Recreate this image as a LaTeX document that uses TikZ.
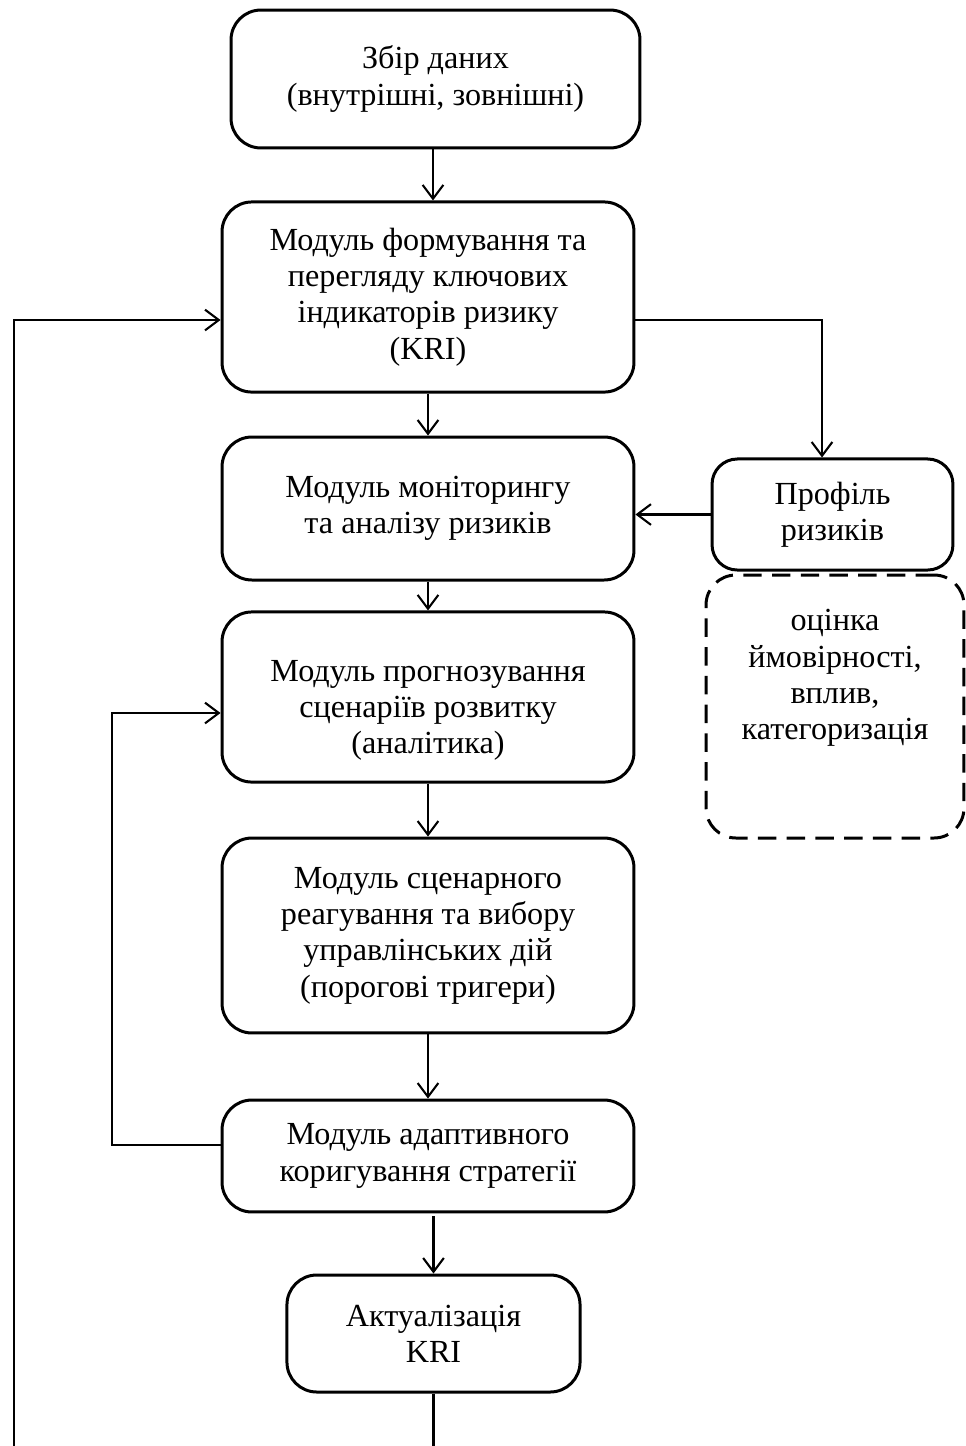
\documentclass[tikz,border=0pt]{standalone}
\usepackage{fontspec}
\setmainfont{Liberation Serif}
\usetikzlibrary{arrows.meta}

\tikzset{
  block/.style={draw, line width=1.3pt, rounded corners=13pt, align=center,
    inner sep=0pt, font=\fontsize{14}{15.8}\selectfont},
  note/.style={block, dash pattern=on 8pt off 4.5pt},
  link/.style={line width=0.9pt, -{Straight Barb[length=6pt,width=9pt]}}
}

\begin{document}
\begin{tikzpicture}[x=0.435pt, y=-0.435pt]
\useasboundingbox (0,0) rectangle (966,1446);
\node[name=zbir, block, minimum width=177.9pt, minimum height=60pt] at (435.5,79) {Збір даних\\(внутрішні, зовнішні)};
\node[name=kri, block, minimum width=179.2pt, minimum height=82.7pt] at (428,297) {Модуль формування та\\перегляду ключових\\індикаторів ризику\\(KRI)};
\node[name=monit, block, minimum width=179.2pt, minimum height=62.2pt] at (428,508.5) {Модуль моніторингу\\та аналізу ризиків};
\node[name=profil, block, rounded corners=11pt, minimum width=104.8pt, minimum height=48.3pt] at (832.5,514.5) {Профіль\\ризиків};
\node[name=otsinka, note, minimum width=112.2pt, minimum height=114.4pt] at (835,706.5) {оцінка\\ймовірності,\\вплив,\\категоризація\\[12pt]{}};
\node[name=prohnoz, block, minimum width=179.2pt, minimum height=74pt] at (428,697) {\mbox{}\\[5pt]Модуль прогнозування\\сценаріїв розвитку\\(аналітика)};
\node[name=reag, block, minimum width=179.2pt, minimum height=84.8pt] at (428,935.5) {Модуль сценарного\\реагування та вибору\\управлінських дій\\(порогові тригери)};
\node[name=adapt, block, minimum width=179.2pt, minimum height=48.7pt] at (428,1156) {Модуль адаптивного\\коригування стратегії};
\node[name=aktual, block, minimum width=127.5pt, minimum height=50.9pt] at (433.5,1333.5) {Актуалізація\\KRI};
\coordinate (profilIn) at (822,320);
\coordinate (loopTop) at (112,713);
\coordinate (loopLow) at (112,1145);
\coordinate (feedBot) at (14,1460);
\coordinate (feedTop) at (14,320);
% main chain
\draw[link] (zbir.south -| 433,0) -- (kri.north -| 433,0);
\foreach \from/\to in {kri/monit, monit/prohnoz, prohnoz/reag, reag/adapt}
  \draw[link] (\from.south) -- (\to.north);
\draw[link] ([yshift=-1.3pt]aktual.north |- adapt.south) -- (aktual.north);
% risk profile
\draw[link] (kri.east |- profilIn) -| (profilIn |- profil.north);
\draw[link] (profil.west) -- (monit.east |- profil.west);
% feedback loops
\draw[link] (adapt.west |- loopLow) -- (loopLow) -- (loopTop) -- (prohnoz.west |- loopTop);
\draw[link] (aktual.south) -- (aktual.south |- feedBot) -- (feedBot) -- (feedTop) -- (kri.west |- feedTop);
\end{tikzpicture}
\end{document}
